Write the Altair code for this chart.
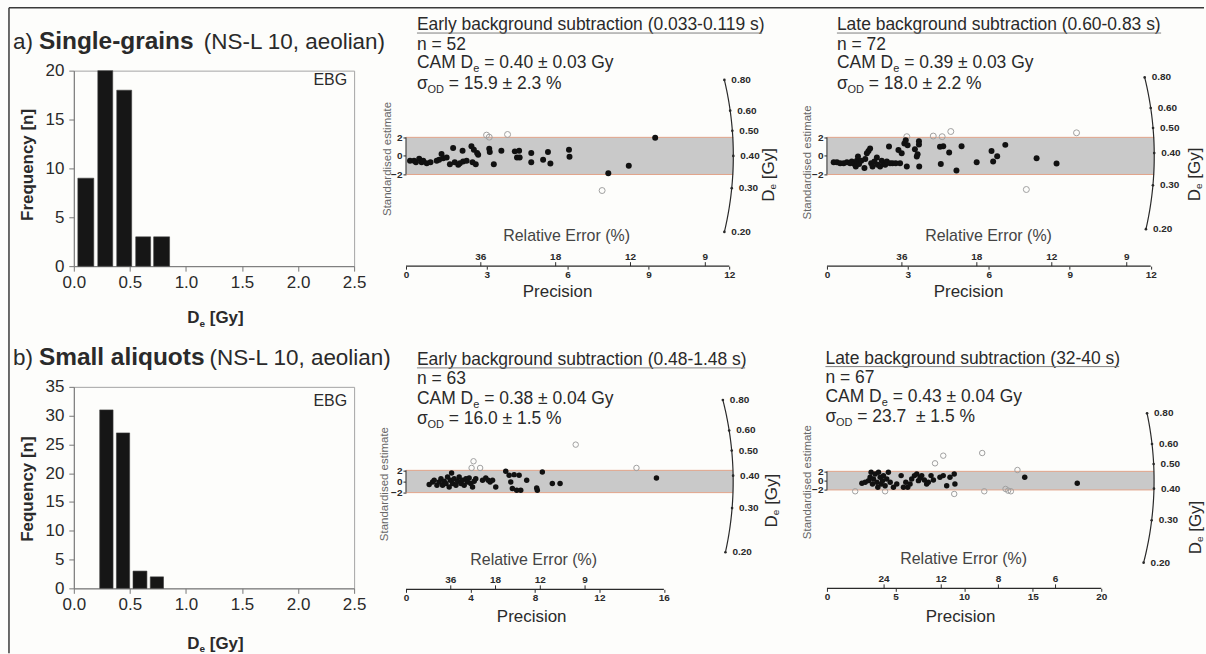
import numpy as np
import pandas as pd
import altair as alt

FONT = "Liberation Sans"
INK = "#2a2a2a"
ONE = pd.DataFrame({"k": [0]})

# ---------------- histogram data (De bins in Gy, counts) ----------------
hist_x_ticks = [0.0, 0.5, 1.0, 1.5, 2.0, 2.5]

sg_bin_lo = [0.036, 0.214, 0.383, 0.552, 0.712]
sg_bin_hi = [0.178, 0.347, 0.516, 0.685, 0.854]
sg_counts = [9, 20, 18, 3, 3]
sg_y_ticks = [0, 5, 10, 15, 20]

sa_bin_lo = [0.231, 0.380, 0.528, 0.682]
sa_bin_hi = [0.350, 0.498, 0.652, 0.800]
sa_counts = [31, 27, 3, 2]
sa_y_ticks = [0, 5, 10, 15, 20, 25, 30, 35]

# ---------------- radial plot data (precision, standardised estimate) ----------------
de_ticks = [0.80, 0.60, 0.50, 0.40, 0.30, 0.20]

# single grains, early background
sg_early_prec = [0.15, 0.30, 0.37, 0.49, 0.58, 0.64, 0.77, 0.91, 1.14, 1.23, 1.32, 1.38, 1.51, 1.63, 1.75,
                 1.81, 1.94, 2.00, 2.10, 2.12, 2.25, 2.43, 2.52, 2.47, 2.59, 2.64, 2.68, 3.09, 3.11, 3.26,
                 3.54, 4.04, 4.20, 4.12, 4.22, 4.65, 4.65, 5.09, 5.27, 5.36, 6.05, 6.07, 7.51, 8.27, 9.25]
sg_early_std = [-0.53, -0.53, -0.67, -0.31, -0.67, -0.53, -0.78, -0.67, -0.53, -0.42, 0.20, -0.24, -0.16, -0.89, 0.85,
                -0.67, -0.96, -0.78, 0.56, -0.60, -0.53, 1.04, 0.67, -0.67, -0.89, 0.31, 0.13, 0.78, 0.42, -0.89,
                0.56, 0.49, 0.56, -0.16, -0.16, 0.31, -0.67, -0.42, 0.42, -0.82, 0.67, -0.09, -1.87, -1.07, 1.95]
sg_early_out_prec = [2.99, 3.09, 3.77, 7.28]
sg_early_out_std = [2.24, 2.02, 2.31, -3.73]

# single grains, late background
sg_late_prec = [0.25, 0.37, 0.49, 0.62, 0.74, 0.86, 0.92, 1.02, 1.07, 1.11, 1.15, 1.19, 1.27, 1.39, 1.42,
                1.48, 1.54, 1.60, 1.64, 1.69, 1.76, 1.85, 1.88, 1.97, 2.03, 2.09, 2.16, 2.22, 2.30, 2.34,
                2.43, 2.55, 2.65, 2.71, 2.77, 2.87, 2.92, 2.96, 2.99, 3.26, 3.33, 3.36, 3.41, 3.41, 3.42,
                4.19, 4.22, 4.31, 4.53, 4.80, 4.99, 5.55, 6.10, 6.16, 6.31, 6.61, 7.77, 8.51]
sg_late_std = [-0.67, -0.67, -0.78, -0.78, -0.67, -0.78, -0.60, -0.88, -1.13, -0.53, -0.07, -0.88, -0.53, -1.30, -0.32,
               0.28, 0.52, 0.80, -0.78, -1.13, -0.60, -0.18, -0.95, -1.13, -0.53, -0.78, -0.95, -0.60, 1.01, -0.78,
               -0.78, -0.78, 0.63, -0.78, 0.28, 1.33, 1.68, -1.13, 1.15, 0.73, -0.07, 0.17, 1.58, 1.22, -1.13,
               0.98, -0.88, 1.05, 0.38, -1.58, 1.05, -0.67, 0.52, -0.60, -0.04, 1.19, -0.25, -0.81]
sg_late_out_prec = [2.96, 3.94, 4.27, 4.59, 9.25, 7.39]
sg_late_out_std = [2.07, 2.14, 2.07, 2.63, 2.49, -3.62]

# small aliquots, early background
sa_early_prec = [1.44, 1.65, 1.75, 1.92, 2.06, 2.17, 2.27, 2.37, 2.48, 2.58, 2.68, 2.75, 2.83, 2.89, 2.99,
                 3.10, 3.20, 3.30, 3.41, 3.51, 3.61, 3.72, 3.82, 3.92, 4.02, 4.13, 4.23, 4.33, 4.75, 4.95,
                 5.10, 5.22, 5.37, 5.57, 6.19, 6.40, 6.50, 6.60, 6.71, 6.87, 7.02, 7.12, 7.49, 8.11, 8.15,
                 8.46, 9.08, 9.56, 15.54]
sa_early_std = [-0.56, -0.08, 0.22, -0.68, -0.08, 0.51, -0.68, 0.04, -0.38, 0.81, -0.98, 0.22, 1.53, -0.38, 0.51,
                -0.68, 0.04, 0.81, -0.38, 0.22, -0.68, 0.51, -0.08, 0.63, -0.38, -0.98, 0.04, 0.51, 0.22, 0.63,
                0.22, -0.08, 0.22, -0.98, 1.83, 1.11, -0.08, -1.28, 1.23, -1.58, 1.11, -1.58, 0.22, -1.16, -1.58,
                1.71, -0.38, -0.38, 0.63]
sa_early_out_prec = [4.19, 4.07, 4.60, 10.53, 14.30]
sa_early_out_std = [3.63, 2.43, 2.43, 6.62, 2.43]

# small aliquots, late background
sa_late_prec = [2.55, 2.79, 3.03, 3.15, 3.22, 3.32, 3.39, 3.52, 3.64, 3.71, 3.76, 3.88, 3.95, 4.05, 4.12,
                4.24, 4.36, 4.48, 4.61, 4.85, 5.09, 5.41, 5.58, 5.75, 5.89, 6.06, 6.18, 6.38, 6.55, 6.67,
                6.79, 6.91, 7.10, 7.27, 7.39, 7.59, 7.76, 8.24, 8.48, 8.73, 8.97, 9.28, 9.33, 14.42, 18.25]
sa_late_std = [-0.57, -0.36, 0.00, 0.72, 1.79, -0.72, 0.36, 1.43, -0.36, -1.43, 1.79, 0.72, -0.72, 0.00, 1.08,
               -1.08, 0.36, 1.79, -0.36, -1.43, -0.72, 1.08, -1.43, -0.36, -1.43, -0.72, 0.36, 1.08, 1.43, 0.00,
               0.57, 1.08, 0.14, -0.72, -0.36, 1.08, 0.14, 0.72, 1.08, -1.08, 0.72, 1.43, -0.72, 0.72, -0.57]
sa_late_out_prec = [2.06, 4.24, 7.88, 8.48, 11.32, 9.28, 11.47, 13.02, 13.21, 13.41, 13.89]
sa_late_out_std = [-2.29, -2.29, 3.73, 5.38, 5.95, -2.87, -2.29, -1.79, -2.15, -2.29, 2.29]


def label(text, x, y, size=17.5, weight="normal", color=INK, align="left",
          baseline="alphabetic", angle=None):
    props = dict(text=text, font=FONT, fontSize=size, fontWeight=weight, color=color,
                 align=align, baseline=baseline)
    if angle is not None:
        props["angle"] = angle
    return alt.Chart(ONE).mark_text(**props).encode(x=alt.value(x), y=alt.value(y))


def hline(x0, x1, y, color, width=1.0):
    return alt.Chart(ONE).mark_rule(color=color, strokeWidth=width).encode(
        x=alt.value(x0), x2=alt.value(x1), y=alt.value(y))


def vline(x, y0, y1, color, width=1.0):
    return alt.Chart(ONE).mark_rule(color=color, strokeWidth=width).encode(
        x=alt.value(x), y=alt.value(y0), y2=alt.value(y1))


HIST_W = 281


def histogram(lo, hi, counts, y_ticks, H, lead, bold, rest, rest_x, ytitle, ytitle_y,
              xtitle_y, ebg_y, extra=()):
    W = HIST_W
    df = pd.DataFrame({"lo": lo, "hi": hi, "n": counts, "base": [0] * len(counts)})
    xs = alt.Scale(domain=[0, 2.5], nice=False, zero=False)
    ys = alt.Scale(domain=[0, y_ticks[-1]], nice=False)
    x_axis = alt.Axis(values=hist_x_ticks, format=".1f", labelFont=FONT, labelFontSize=17,
                      labelColor=INK, tickColor="#777777", domainColor="#777777", tickSize=5,
                      labelPadding=3, grid=False, title=None, labelFlush=False)
    y_axis = alt.Axis(values=y_ticks, format="d", labelFont=FONT, labelFontSize=17,
                      labelColor=INK, tickColor="#777777", domainColor="#777777", tickSize=5,
                      labelPadding=5, grid=False, title=None)
    bars = alt.Chart(df).mark_bar(color="#161616", stroke="#3c3c3c", strokeWidth=0.6).encode(
        x=alt.X("lo:Q", scale=xs, axis=x_axis),
        x2="hi:Q",
        y=alt.Y("n:Q", scale=ys, axis=y_axis),
        y2="base:Q",
    )
    xt0 = 142 - 28.3
    layers = [
        bars,
        label("EBG", W - 7, ebg_y, size=16, align="right"),
        label(lead, -61, -22, size=22.5),
        label(bold, -35, -22, size=24.5, weight="bold"),
        label(rest, rest_x, -22, size=22.5),
        label(ytitle, -46, ytitle_y, size=17, weight="bold", align="center",
              baseline="middle", angle=270),
        label("D", xt0, xtitle_y, size=17, weight="bold"),
        label("e", xt0 + 12.3, xtitle_y + 4, size=10, weight="bold"),
        label("[Gy]", xt0 + 22.6, xtitle_y, size=17, weight="bold"),
    ]
    layers += list(extra)
    return alt.layer(*layers).properties(
        width=W, height=H,
        view=alt.ViewBackground(stroke="#a4a4a4", strokeWidth=1),
    )


def radial(cfg, prec, std, oprec, ostd):
    W, H = cfg["W"], cfg["H"]
    xmax, ymin, ymax = cfg["xmax"], cfg["ymin"], cfg["ymax"]
    xs = alt.Scale(domain=[0, xmax], nice=False, zero=False)
    ys = alt.Scale(domain=[ymin, ymax], nice=False, zero=False)
    kx = W / xmax
    ky = H / (ymax - ymin)
    r_px = cfg["arc_r"] * kx

    # De axis: circular arc of constant screen radius, rays through the origin
    def arc_xy(de):
        th = np.arctan(np.log(np.asarray(de, dtype=float) / cfg["cam"]) * ky / kx)
        return r_px * np.cos(th) / kx, r_px * np.sin(th) / ky

    de_path = np.linspace(min(de_ticks), max(de_ticks), 121)
    ax_, ay_ = arc_xy(de_path)
    arc_df = pd.DataFrame({"x": ax_, "y": ay_, "i": np.arange(len(de_path))})
    tx, ty = arc_xy(de_ticks)
    tick_df = pd.DataFrame({"x": tx, "y": ty, "lab": [f"{v:.2f}" for v in de_ticks]})

    x_axis = alt.Axis(values=cfg["p_ticks"], format="d", labelFont=FONT, labelFontSize=10,
                      labelFontWeight="bold", labelColor=INK, tickColor=INK, tickSize=3,
                      domain=False, grid=False, title=None, labelPadding=0,
                      offset=cfg["ax_off"], labelFlush=False)
    y_axis = alt.Axis(values=[-2, 0, 2], format="d", labelFont=FONT, labelFontSize=10,
                      labelFontWeight="bold", labelColor=INK, tickColor=INK, tickSize=3,
                      domain=False, grid=False, title=None, labelPadding=1,
                      labelOverlap=False, labelFlush=False)

    def X(f):
        return alt.X(f, scale=xs, axis=x_axis)

    def Y(f):
        return alt.Y(f, scale=ys, axis=y_axis)

    band = alt.Chart(pd.DataFrame({"x0": [0.0], "x1": [cfg["arc_r"]], "lo": [-2.0], "hi": [2.0]})
                     ).mark_rect(color="#c9c9c9").encode(
        x=X("x0:Q"), x2="x1:Q", y=Y("lo:Q"), y2="hi:Q")
    edges = alt.Chart(pd.DataFrame({"x0": [0.0, 0.0], "x1": [cfg["arc_r"]] * 2, "y": [-2.0, 2.0]})
                      ).mark_rule(color="#e2a48a", strokeWidth=1).encode(
        x=X("x0:Q"), x2="x1:Q", y=Y("y:Q"))
    yline = alt.Chart(pd.DataFrame({"x": [0.0], "lo": [-2.0], "hi": [2.0]})
                      ).mark_rule(color=INK, strokeWidth=1).encode(
        x=X("x:Q"), y=Y("lo:Q"), y2="hi:Q")

    hax = H + cfg["ax_off"]
    pline = alt.Chart(pd.DataFrame({"x0": [0.0], "x1": [float(cfg["p_ticks"][-1])]})
                      ).mark_rule(color=INK, strokeWidth=1.3).encode(
        x=X("x0:Q"), x2="x1:Q", y=alt.value(hax))
    re_df = pd.DataFrame({"p": [100.0 / r for r in cfg["re_ticks"]],
                          "lab": [str(r) for r in cfg["re_ticks"]]})
    re_tk = alt.Chart(re_df).mark_rule(color=INK, strokeWidth=1).encode(
        x=X("p:Q"), y=alt.value(hax), y2=alt.value(hax - 4))
    re_lb = alt.Chart(re_df).mark_text(font=FONT, fontSize=10, fontWeight="bold", color=INK,
                                       baseline="middle").encode(
        x=X("p:Q"), y=alt.value(hax - 9), text="lab:N")

    outl = alt.Chart(pd.DataFrame({"p": oprec, "z": ostd})).mark_point(
        shape="circle", filled=False, color="#a0a0a0", strokeWidth=1, size=cfg["size"], opacity=1
    ).encode(x=X("p:Q"), y=Y("z:Q"))
    pts = alt.Chart(pd.DataFrame({"p": prec, "z": std})).mark_circle(
        color="#111111", opacity=1, size=cfg["size"]).encode(x=X("p:Q"), y=Y("z:Q"))

    arc = alt.Chart(arc_df).mark_line(color=INK, strokeWidth=1.2).encode(
        x=X("x:Q"), y=Y("y:Q"), order="i:Q")
    arc_dot = alt.Chart(tick_df).mark_circle(color=INK, size=7, opacity=1).encode(
        x=X("x:Q"), y=Y("y:Q"))
    arc_lab = alt.Chart(tick_df).mark_text(font=FONT, fontSize=10, fontWeight="bold", color=INK,
                                           align="left", baseline="middle", dx=7).encode(
        x=X("x:Q"), y=Y("y:Q"), text="lab:N")

    title, n_txt, cam_txt, od_txt = cfg["header"]
    hx = cfg["hx"]
    t, n, c, s = cfg["hy"]
    texts = [
        label(title, hx, t),
        hline(hx, cfg["ul_end"], t + 3, "#808080", 1),
        label(n_txt, hx, n),
        label("CAM D", hx, c),
        label("e", hx + 56.4, c + 4, size=11),
        label("= " + cam_txt, hx + 67.4, c),
        label("σ", hx, s),
        label("OD", hx + 10.5, s + 4, size=11),
        label("= " + od_txt, hx + 31.9, s),
        label("Standardised estimate", cfg["std_pos"][0], cfg["std_pos"][1], size=11.5,
              color="#666666", align="center", baseline="middle", angle=270),
        label("Relative Error (%)", cfg["re_title"][0], cfg["re_title"][1], size=16,
              color="#444444", align="center", baseline="middle"),
        label("Precision", cfg["p_title"][0], cfg["p_title"][1], size=17,
              color=INK, align="center", baseline="middle"),
    ]
    dx_, dy_ = cfg["de_pos"]
    y0 = dy_ + 26.9
    texts += [
        label("D", dx_, y0, size=17, baseline="middle", angle=270),
        label("e", dx_ + 4, y0 - 12.3, size=10, baseline="middle", angle=270),
        label("[Gy]", dx_, y0 - 22.6, size=17, baseline="middle", angle=270),
    ]

    layers = [band, edges, yline, pline, re_tk, re_lb, outl, pts, arc, arc_dot, arc_lab] + texts
    return alt.layer(*layers).properties(width=W, height=H)


# ---------------- panels ----------------
frame = [
    hline(-65, 1133, -63, "#3a3a3a", 1.5),
    vline(-65, -63, 584, "#3a3a3a", 1.5),
]

hist_a = histogram(sg_bin_lo, sg_bin_hi, sg_counts, sg_y_ticks, 196,
                   "a)", "Single-grains", "(NS-L 10, aeolian)", 130.3,
                   "Frequency [n]", 94.5, 252.7, 14, extra=frame)
hist_b = histogram(sa_bin_lo, sa_bin_hi, sa_counts, sa_y_ticks, 202,
                   "b)", "Small aliquots", "(NS-L 10, aeolian)", 136,
                   "Fequency [n]", 102.5, 262.3, 19)

top_common = dict(H=196, ymin=-11.88, ymax=9.19, p_ticks=[0, 3, 6, 9, 12], re_ticks=[36, 18, 12, 9],
                  hy=(-40.7, -20.7, -2.3, 18.3), ax_off=0, size=36)

rad_a1 = radial(dict(top_common, W=370, xmax=13.7, cam=0.40, arc_r=12.15,
                     header=("Early background subtraction (0.033-0.119 s)", "n = 52",
                             "0.40 ± 0.03 Gy", "15.9 ± 2.3 %"),
                     hx=11, ul_end=357, std_pos=(-18, 88.5), re_title=(161, 166),
                     p_title=(152, 221.7), de_pos=(364, 104.5)),
                sg_early_prec, sg_early_std, sg_early_out_prec, sg_early_out_std)

rad_a2 = radial(dict(top_common, W=330, xmax=12.2, cam=0.39, arc_r=12.13,
                     header=("Late background subtraction (0.60-0.83 s)", "n = 72",
                             "0.39 ± 0.03 Gy", "18.0 ± 2.2 %"),
                     hx=10, ul_end=335, std_pos=(-19, 92), re_title=(162, 166),
                     p_title=(142, 221.7), de_pos=(369, 104)),
                sg_late_prec, sg_late_std, sg_late_out_prec, sg_late_out_std)

rad_b1 = radial(dict(H=202, W=370, xmax=22.9, ymin=-19.2, ymax=17.0, cam=0.38, arc_r=20.3,
                     p_ticks=[0, 4, 8, 12, 16], re_ticks=[36, 18, 12, 9], ax_off=1, size=30,
                     header=("Early background subtraction (0.48-1.48 s)", "n = 63",
                             "0.38 ± 0.04 Gy", "16.0 ± 1.5 %"),
                     hx=11, hy=(-22, -3.3, 17, 37), ul_end=340, std_pos=(-21, 97.5),
                     re_title=(128, 174), p_title=(126, 230.5), de_pos=(367, 114)),
                sa_early_prec, sa_early_std, sa_early_out_prec, sa_early_out_std)

rad_b2 = radial(dict(H=202, W=330, xmax=24.0, ymin=-23.2, ymax=20.2, cam=0.43, arc_r=23.85,
                     p_ticks=[0, 5, 10, 15, 20], re_ticks=[24, 12, 8, 6], ax_off=0, size=30,
                     header=("Late background subtraction (32-40 s)", "n = 67",
                             "0.43 ± 0.04 Gy", "23.7\u00a0 ± 1.5 %"),
                     hx=-1.5, hy=(-23.3, -4.3, 15, 35.7), ul_end=293, std_pos=(-19, 95.5),
                     re_title=(137, 173), p_title=(134, 230.5), de_pos=(369.5, 141)),
                sa_late_prec, sa_late_std, sa_late_out_prec, sa_late_out_std)

chart = alt.concat(
    hist_a, rad_a1, rad_a2, hist_b, rad_b1, rad_b2,
    columns=3,
    spacing={"row": 121, "column": 52},
    bounds="flush",
    padding={"left": 7, "top": 5, "right": 0, "bottom": 0},
    background="#fdfdfb",
).configure_view(strokeWidth=0)

chart.save("out.html", embed_options={"renderer": "svg", "actions": False})
